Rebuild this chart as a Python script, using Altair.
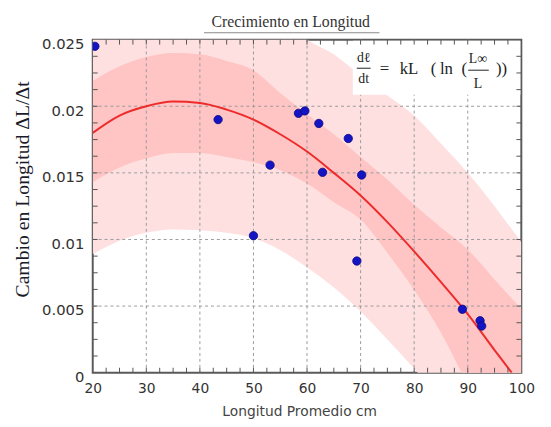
import altair as alt
import pandas as pd

# ---- data ----
obs_x = [20.4, 43.4, 58.4, 59.6, 62.2, 67.7, 53.1, 62.9, 70.2, 50.0, 69.3, 89.0, 92.3, 92.6]
obs_y = [0.0245, 0.0190, 0.01947, 0.01965, 0.01871, 0.01758, 0.01558, 0.01504, 0.01484,
         0.01028, 0.00838, 0.00476, 0.00390, 0.00350]

fit_x = [20, 25, 30, 35, 40, 45, 50, 55, 60, 65, 70, 75, 80, 85, 90, 95, 98.2]
fit_y = [0.0180, 0.0193, 0.0200, 0.02035, 0.02025, 0.01975, 0.0190, 0.0179, 0.0166,
         0.0150, 0.0133, 0.0113, 0.0091, 0.0068, 0.0044, 0.0017, 0.0]

band_x = [20, 25, 30, 35, 40, 45, 50, 55, 60, 65, 70, 75, 80, 85, 90, 95, 100]
outer_hi = [0.0275, 0.0286, 0.0293, 0.0296, 0.0295, 0.0290, 0.0280, 0.0266, 0.0250,
            0.0239, 0.0223, 0.0208, 0.0193, 0.0172, 0.0150, 0.0125, 0.0098]
outer_lo = [0.0089, 0.0099, 0.0105, 0.01075, 0.0107, 0.0105, 0.0101, 0.0092, 0.0079,
            0.0064, 0.0046, 0.0025, 0.0003, -0.0022, -0.0048, -0.0074, -0.0100]
inner_hi = [0.0219, 0.0230, 0.0237, 0.0240, 0.0239, 0.0234, 0.0227, 0.0210, 0.0194,
            0.0179, 0.0162, 0.0145, 0.0126, 0.0109, 0.00925, 0.0070, 0.0048]
inner_lo = [0.0143, 0.0154, 0.0161, 0.0165, 0.0165, 0.0162, 0.0158, 0.0152, 0.0142,
            0.0128, 0.0115, 0.0090, 0.0062, 0.0030, -0.0008, -0.0035, -0.0060]

x_labels = [20, 30, 40, 50, 60, 70, 80, 90, 100]
y_labels = [0, 0.005, 0.01, 0.015, 0.02, 0.025]
x_grid_lines = [30, 40, 50, 60, 70, 80, 90]
y_grid_lines = [0.005, 0.01, 0.015, 0.02]
x_tick_marks = [22.5, 25, 27.5, 30, 32.5, 35, 37.5, 40, 42.5, 45, 47.5, 50, 52.5, 55, 57.5,
                60, 62.5, 65, 67.5, 70, 72.5, 75, 77.5, 80, 82.5, 85, 87.5, 90, 92.5, 95, 97.5]
y_tick_marks = [0.00125, 0.0025, 0.00375, 0.005, 0.00625, 0.0075, 0.00875, 0.01, 0.01125,
                0.0125, 0.01375, 0.015, 0.01625, 0.0175, 0.01875, 0.02, 0.02125, 0.0225,
                0.02375]

title_text = "Crecimiento en Longitud"
x_title = "Longitud Promedio cm"
y_title = "Cambio en Longitud ΔL/Δt"

W, H = 435, 338

xs = alt.Scale(domain=[20, 100], nice=False, zero=False)
ys = alt.Scale(domain=[0, 0.025], nice=False, zero=False)

bands = pd.DataFrame({"x": band_x, "olo": outer_lo, "ohi": outer_hi,
                      "ilo": inner_lo, "ihi": inner_hi})
fit = pd.DataFrame({"x": fit_x, "y": fit_y})
obs = pd.DataFrame({"x": obs_x, "y": obs_y})
one = pd.DataFrame({"a": [0]})

xaxis = alt.Axis(values=x_labels, format="d", grid=False, ticks=False, domain=False,
                 labelFont="DejaVu Sans", labelFontSize=14, labelColor="#333",
                 labelPadding=9, title=None, labelFlush=False)
yaxis = alt.Axis(values=y_labels, format="~g", grid=False, ticks=False, domain=False,
                 labelFont="DejaVu Sans", labelFontSize=15, labelColor="#333",
                 labelPadding=9, labelOffset=4, title=None, labelFlush=False)

outer = alt.Chart(bands).mark_area(color="#ffe0e0", clip=True, interpolate="monotone").encode(
    x=alt.X("x:Q", scale=xs, axis=xaxis),
    y=alt.Y("olo:Q", scale=ys, axis=yaxis),
    y2="ohi:Q")
inner = alt.Chart(bands).mark_area(color="#ffc4c4", clip=True, interpolate="monotone").encode(
    x=alt.X("x:Q", scale=xs), y=alt.Y("ilo:Q", scale=ys), y2="ihi:Q")

gx = alt.Chart(pd.DataFrame({"g": x_grid_lines})).mark_rule(
    color="#9a9a9a", strokeDash=[3, 3], strokeWidth=1).encode(
    x=alt.X("g:Q", scale=xs), y=alt.value(0), y2=alt.value(H))
gy = alt.Chart(pd.DataFrame({"g": y_grid_lines})).mark_rule(
    color="#9a9a9a", strokeDash=[3, 3], strokeWidth=1).encode(
    y=alt.Y("g:Q", scale=ys), x=alt.value(0), x2=alt.value(W))

box = alt.Chart(one).mark_rect(color="white").encode(
    x=alt.value(264), x2=alt.value(W - 1), y=alt.value(1), y2=alt.value(56))

line = alt.Chart(fit).mark_line(color="#ee2b2b", strokeWidth=2, clip=True,
                                interpolate="monotone").encode(
    x=alt.X("x:Q", scale=xs), y=alt.Y("y:Q", scale=ys))

pts = alt.Chart(obs).mark_circle(size=72, opacity=1, color="#1414c4", stroke="#0a0a80",
                                 strokeWidth=0.8, clip=True).encode(
    x=alt.X("x:Q", scale=xs), y=alt.Y("y:Q", scale=ys))

tdfx = pd.DataFrame({"t": x_tick_marks})
tdfy = pd.DataFrame({"t": y_tick_marks})
tick_style = dict(color="#555", strokeWidth=1)
tb = alt.Chart(tdfx).mark_rule(**tick_style).encode(
    x=alt.X("t:Q", scale=xs), y=alt.value(H), y2=alt.value(H - 5))
tt = alt.Chart(tdfx).mark_rule(**tick_style).encode(
    x=alt.X("t:Q", scale=xs), y=alt.value(0), y2=alt.value(5))
tl = alt.Chart(tdfy).mark_rule(**tick_style).encode(
    y=alt.Y("t:Q", scale=ys), x=alt.value(0), x2=alt.value(5))
tr = alt.Chart(tdfy).mark_rule(**tick_style).encode(
    y=alt.Y("t:Q", scale=ys), x=alt.value(W), x2=alt.value(W - 5))

serif = "Liberation Serif"

title = alt.Chart(one).mark_text(text=title_text, font=serif, fontSize=16, color="#333",
                                 align="center", baseline="middle").encode(
    x=alt.value(201), y=alt.value(-18))
title_ul = alt.Chart(one).mark_rule(color="#888", strokeWidth=1).encode(
    x=alt.value(113), x2=alt.value(291), y=alt.value(-7))

xt = alt.Chart(one).mark_text(text=x_title, font="DejaVu Sans", fontSize=14, color="#444",
                              align="center", baseline="middle").encode(
    x=alt.value(210), y=alt.value(378))
yt = alt.Chart(one).mark_text(text=y_title, font=serif, fontSize=20, color="#1a1a2a",
                              angle=270, align="center", baseline="middle").encode(
    x=alt.value(-71), y=alt.value(152))


def eq_text(txt, x, y, size=17):
    return alt.Chart(one).mark_text(text=txt, fontSize=size, align="center", font=serif,
                                    color="#222", baseline="middle").encode(
        x=alt.value(x), y=alt.value(y))


def eq_bar(x1, x2, y):
    return alt.Chart(one).mark_rule(color="#222", strokeWidth=1).encode(
        x=alt.value(x1), x2=alt.value(x2), y=alt.value(y))


eq = [
    eq_text("dℓ", 275, 19, 14), eq_bar(268, 282, 29), eq_text("dt", 275, 40, 14),
    eq_text("=", 296, 30), eq_text("kL", 321, 30),
    eq_text("(", 346, 30), eq_text("ln", 359, 30), eq_text("(", 377, 30),
    eq_text("L∞", 391, 20, 14), eq_bar(381, 402, 31), eq_text("L", 391, 45, 14),
    eq_text("))", 415, 30),
]

chart = alt.layer(outer, inner, gx, gy, box, line, pts, tb, tt, tl, tr,
                  title, title_ul, xt, yt, *eq).properties(
    width=W, height=H,
    autosize=alt.AutoSizeParams(type="none"),
    padding={"left": 86, "top": 29, "right": 22, "bottom": 52},
    background="white",
).configure_view(stroke="#5a5a5a", strokeWidth=2)

chart.save("out.html", embed_options={"renderer": "svg", "actions": False})
